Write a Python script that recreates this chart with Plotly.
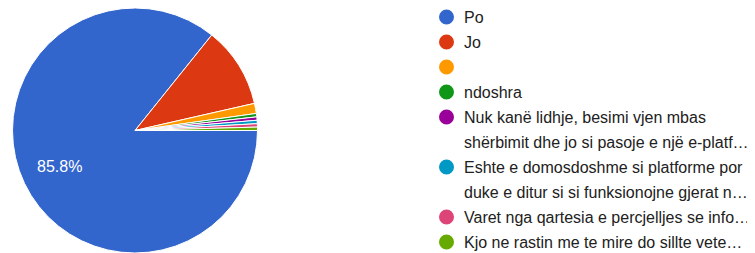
import math
import plotly.graph_objects as go

# ---- data ----
labels = [
    "Po",
    "Jo",
    "",
    "ndoshra",
    "Nuk kanë lidhje, besimi vjen mbas<br>shërbimit dhe jo si pasoje e një e-platf…",
    "Eshte e domosdoshme si platforme por<br>duke e ditur si si funksionojne gjerat n…",
    "Varet nga qartesia e percjelljes se info…",
    "Kjo ne rastin me te mire do sillte vete…",
]
values = [193, 24, 3, 1, 1, 1, 1, 1]
colors = ["#3366CC", "#DC3912", "#FF9900", "#109618",
          "#990099", "#0099C6", "#DD4477", "#66AA00"]

# page body has an 8px default margin; compensate so the figure fills the view
OFF = 8
W, H = 755 - OFF, 253 - OFF
FONT = "Liberation Sans, Arial, sans-serif"

# pie geometry (page pixels)
cx, cy, r = 135 - OFF, 130.5 - OFF, 122.5

fig = go.Figure()
fig.add_trace(go.Pie(
    labels=labels,
    values=values,
    sort=False,
    direction="clockwise",
    rotation=90,
    marker=dict(colors=colors, line=dict(color="white", width=1)),
    textinfo="none",
    showlegend=False,
    hoverinfo="label+percent",
    domain=dict(x=[(cx - r) / W, (cx + r) / W],
                y=[max(0, 1 - (cy + r) / H), 1 - (cy - r) / H]),
))

annotations = []
# percentage label of the largest slice, placed at its mid-angle
total = sum(values)
frac = values[0] / total
theta = math.pi * frac  # clockwise from 3 o'clock (screen coords)
lr = 0.686 * r
lx = cx + lr * math.cos(theta)
ly = cy + lr * math.sin(theta)
annotations.append(dict(
    xref="paper", yref="paper", x=lx / W, y=1 - ly / H,
    xanchor="center", yanchor="middle", showarrow=False,
    text=f"{frac * 100:.1f}%", font=dict(size=16, color="white", family=FONT),
))

# ---- custom legend (circle markers + text) ----
line_h = 25
y0 = 17 - OFF
marker_x = 446.5 - OFF
text_x = 462 - OFF
shapes = []
line_idx = 0
for lab, col in zip(labels, colors):
    yc = y0 + line_idx * line_h
    shapes.append(dict(
        type="circle", xref="paper", yref="paper",
        xsizemode="pixel", ysizemode="pixel",
        xanchor=marker_x / W, yanchor=1 - yc / H,
        x0=-7.5, x1=7.5, y0=-7.5, y1=7.5,
        fillcolor=col, line=dict(width=0),
    ))
    for part in lab.split("<br>"):
        yy = y0 + line_idx * line_h
        annotations.append(dict(
            xref="paper", yref="paper", x=text_x / W, y=1 - yy / H,
            xanchor="left", yanchor="middle", showarrow=False,
            text=part, font=dict(size=16, color="#212121", family=FONT),
        ))
        line_idx += 1

fig.update_layout(
    width=W, height=H,
    margin=dict(l=0, r=0, t=0, b=0),
    paper_bgcolor="white", plot_bgcolor="white",
    shapes=shapes, annotations=annotations,
    showlegend=False,
)

fig.write_html("out.html")
